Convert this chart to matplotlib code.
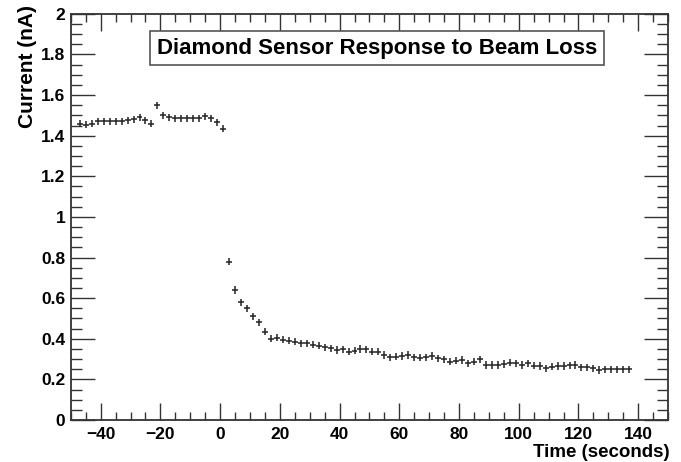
import matplotlib
matplotlib.use("Agg")
import matplotlib.pyplot as plt
from matplotlib.ticker import MultipleLocator

plt.rcParams['font.family'] = ['Liberation Sans', 'DejaVu Sans']
plt.rcParams['font.weight'] = 'bold'

# before the beam loss
t_before = [-47, -45, -43, -41, -39, -37, -35, -33, -31, -29, -27, -25, -23,
            -21, -19, -17, -15, -13, -11, -9, -7, -5, -3, -1, 1]
i_before = [1.46, 1.455, 1.46, 1.47, 1.47, 1.47, 1.47, 1.47, 1.475, 1.48, 1.49, 1.475, 1.46,
            1.55, 1.50, 1.49, 1.485, 1.485, 1.485, 1.485, 1.485, 1.495, 1.485, 1.465, 1.435]

# after the beam loss
t_after = [3, 5, 7, 9, 11, 13, 15, 17, 19, 21, 23, 25, 27, 29, 31, 33, 35, 37, 39, 41,
           43, 45, 47, 49, 51, 53, 55, 57, 59, 61, 63, 65, 67, 69, 71, 73, 75, 77, 79, 81,
           83, 85, 87, 89, 91, 93, 95, 97, 99, 101, 103, 105, 107, 109, 111, 113, 115, 117,
           119, 121, 123, 125, 127, 129, 131, 133, 135, 137]
i_after = [0.78, 0.64, 0.58, 0.55, 0.51, 0.48, 0.435, 0.40, 0.405, 0.395, 0.39, 0.385, 0.378,
           0.378, 0.37, 0.365, 0.358, 0.353, 0.345, 0.348, 0.336, 0.341, 0.35, 0.348, 0.336,
           0.336, 0.32, 0.309, 0.312, 0.315, 0.32, 0.309, 0.307, 0.309, 0.315, 0.304, 0.299,
           0.287, 0.292, 0.296, 0.279, 0.287, 0.299, 0.271, 0.271, 0.271, 0.276, 0.282, 0.279,
           0.271, 0.279, 0.268, 0.266, 0.255, 0.263, 0.266, 0.266, 0.269, 0.271, 0.26, 0.26,
           0.255, 0.246, 0.25, 0.25, 0.25, 0.25, 0.25]

t = t_before + t_after
cur = i_before + i_after

fig = plt.figure(figsize=(6.81, 4.62), dpi=100)
ax = fig.add_axes([0.104, 0.091, 0.877, 0.879])

ax.errorbar(t, cur, xerr=1.0, yerr=0.018, fmt='none', ecolor='#222222',
            elinewidth=1.1, capsize=0)

ax.set_xlim(-50, 150)
ax.set_ylim(0, 2)
ax.xaxis.set_major_locator(MultipleLocator(20))
ax.xaxis.set_minor_locator(MultipleLocator(5))
ax.yaxis.set_minor_locator(MultipleLocator(0.05))
ax.set_yticks([0, 0.2, 0.4, 0.6, 0.8, 1, 1.2, 1.4, 1.6, 1.8, 2])
ax.set_yticklabels(['0', '0.2', '0.4', '0.6', '0.8', '1', '1.2', '1.4', '1.6', '1.8', '2'])

ax.tick_params(which='both', direction='in', top=True, right=True, labelsize=12.5,
               width=1.0, color='#333333')
ax.tick_params(axis='x', which='major', length=12, pad=5)
ax.tick_params(axis='x', which='minor', length=6)
ax.tick_params(axis='y', which='major', length=17, pad=4)
ax.tick_params(axis='y', which='minor', length=8)
for s in ax.spines.values():
    s.set_linewidth(1.3)
    s.set_color('#333333')

ax.set_xlabel('Time (seconds)', fontsize=13.5, fontweight='bold')
ax.xaxis.set_label_coords(1.003, -0.09)
ax.xaxis.label.set_horizontalalignment('right')
ax.xaxis.label.set_verticalalignment('baseline')
ax.set_ylabel('Current (nA)', fontsize=15, fontweight='bold')
ax.yaxis.set_label_coords(-0.072, 1.022)
ax.yaxis.label.set_verticalalignment('center')
ax.yaxis.label.set_horizontalalignment('right')

fig.text(0.554, 0.896, 'Diamond Sensor Response to Beam Loss', fontsize=16,
         fontweight='bold', ha='center', va='center',
         bbox=dict(boxstyle='square,pad=0.3', fc='white', ec='#555555', lw=1.2))

fig.savefig('out.png', dpi=100)
